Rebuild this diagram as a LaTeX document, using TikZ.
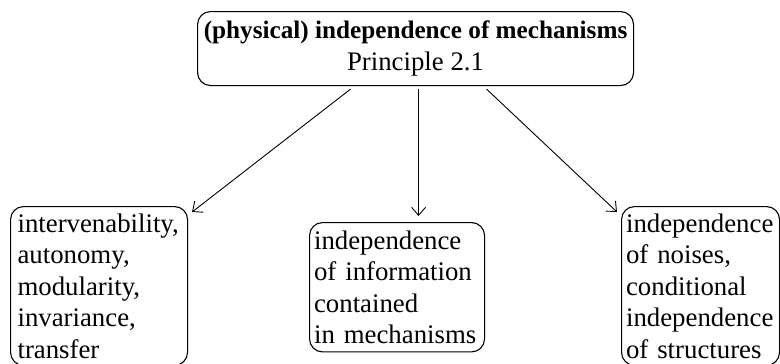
\documentclass[tikz,border=0pt]{standalone}
\usepackage{fontspec}
\setmainfont{Liberation Serif}
\usetikzlibrary{arrows.meta}
\newcommand\myboxfont{\fontsize{26.8}{31.5}\selectfont\hyphenpenalty=10000\relax}
\begin{document}
\begin{tikzpicture}[x=1pt,y=-1pt,
  box/.style={draw, line width=1.1pt, rounded corners=13pt, anchor=north west,
    inner ysep=7pt, align=left, font=\myboxfont},
  arr/.style={line width=0.9pt, -{Straight Barb[length=8pt,width=14pt,line width=0.9pt]}}]
\useasboundingbox (0,0) rectangle (780,364);
\clip (0,0) rectangle (780,364);
\node[box, inner xsep=4pt, minimum width=436pt, minimum height=74pt, align=center] (top) at (197,11)
  {{\fontsize{25.2}{30}\selectfont\bfseries (physical) independence of mechanisms}\\[1pt]Principle 2.1};
\node[box, inner xsep=7pt, text width=163pt] (left) at (10,206)
  {intervenability,\\autonomy,\\modularity,\\invariance,\\transfer};
\node[box, inner xsep=4.5pt, inner ysep=8pt, text width=166pt] (mid) at (309,222)
  {independence\\of information\\contained\\in mechanisms};
\node[box, inner xsep=4.5pt, text width=149pt] (right) at (621,206)
  {independence\\of noises,\\conditional\\independence\\of structures};
\coordinate (m1) at ([xshift=3pt,yshift=-3pt]top.south);
\coordinate (m2) at ([yshift=6pt]m1 |- mid.north);
\draw[arr] ([xshift=-65pt,yshift=-3pt]top.south) -- ([xshift=4pt,yshift=-6pt]left.north east);
\draw[arr] (m1) -- (m2);
\draw[arr] ([xshift=71pt,yshift=-3pt]top.south) -- ([xshift=-4pt,yshift=-6pt]right.north west);
\end{tikzpicture}
\end{document}
